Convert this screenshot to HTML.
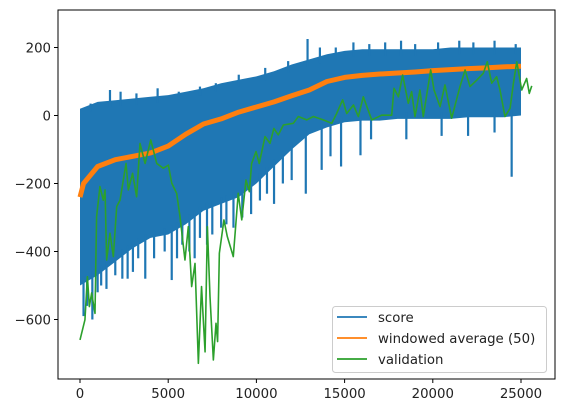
<!DOCTYPE html>
<html><head><meta charset="utf-8"><style>
body{margin:0;background:#fff;}
svg text{font-family:"DejaVu Sans","Liberation Sans",sans-serif;font-size:13.3px;fill:#222;}
</style></head><body>
<svg id="chart" width="563" height="413" viewBox="0 0 563 413" xmlns="http://www.w3.org/2000/svg">
<g id="plot"></g>
<g id="axes"></g>
<g id="legend"></g>
</svg>
<script>
const xTicks=[0,5000,10000,15000,20000,25000];
const yTicks=[200,0,-200,-400,-600];
const bandX=[0,1000,2000,3000,4000,5000,6000,7000,8000,9000,10000,11000,12000,13000,14000,15000,16000,17000,18000,19000,20000,21000,22000,23000,24000,25000];
const scoreUpper=[20,40,45,50,55,60,70,80,95,105,115,130,150,165,180,190,195,195,195,195,195,200,200,200,200,200];
const scoreLower=[-500,-470,-430,-390,-360,-350,-320,-280,-260,-240,-200,-150,-100,-55,-35,-20,-15,-15,-10,-10,-10,-10,-5,-5,-5,0];
const spikeX=[200,700,1500,2700,3700,5200,6500,7500,8700,10600,11500,12800,13700,15900,24470,1700,4400,12900,13600,17300,
400,1000,1200,2000,2400,3000,3300,4200,4800,5500,5800,6200,6800,7200,8000,8300,9200,9700,10200,11000,12000,14200,14800,16500,18500,20500,22000,23500,
600,2300,3200,5600,6800,7700,9000,10500,11800,14500,15500,16400,18200,19000,20300,21500,22300,23500,24700];
const spikeV=[-590,-600,-510,-480,-480,-484,-420,-350,-330,-230,-200,-230,-160,-117,-180,75,80,225,200,215,
-560,-520,-500,-470,-480,-460,-420,-420,-400,-420,-380,-400,-360,-380,-330,-320,-300,-290,-250,-260,-190,-120,-150,-70,-70,-60,-60,-50,
35,70,65,70,85,95,120,140,160,200,215,210,220,210,215,220,215,220,210];
const avgX=[0,200,1000,2000,3000,4000,5000,6000,7000,8000,9000,10000,11000,12000,13000,14000,15000,16000,17000,18000,19000,20000,21000,22000,23000,24000,25000];
const avgV=[-240,-200,-150,-130,-120,-110,-90,-55,-25,-10,10,25,40,58,75,100,112,118,122,125,128,132,135,138,140,143,145];
const valX=[0,280,420,530,660,850,940,1130,1320,1420,1510,1700,1890,2080,2270,2610,2740,2980,3210,3400,3690,4010,4350,4720,5010,5200,5480,5670,5950,6140,6330,6520,6710,6890,6990,7090,7220,7370,7560,7710,7800,7900,8160,8350,8690,8970,9170,9410,9600,9730,9980,10160,10490,10770,10990,11240,11530,12090,12380,12850,13230,13790,14270,14550,14890,15120,15500,15780,16060,16540,17100,17670,17800,18050,18290,18610,18800,18990,19270,19460,19880,20070,20410,20690,21070,21540,21830,22110,22490,22860,23090,23340,23620,23810,24090,24380,24570,24760,25040,25320,25470,25610];
const valV=[-660,-601,-474,-562,-522,-582,-298,-209,-249,-219,-425,-346,-415,-268,-249,-141,-219,-170,-239,-82,-141,-72,-141,-155,-146,-199,-229,-298,-425,-327,-503,-435,-729,-503,-601,-695,-327,-533,-719,-611,-665,-405,-307,-356,-415,-229,-307,-190,-224,-141,-106,-141,-62,-82,-38,-57,-28,-23,-3,-13,-3,-13,-23,6,46,6,31,-3,55,-13,1,1,80,55,119,36,70,-3,75,-3,134,75,26,90,-8,85,134,85,104,124,158,95,114,75,-3,21,95,158,75,109,65,87];

const X0=58,X1=555,Y0=10,Y1=379;
function sx(v){return 80+v*0.01764;}
function sy(v){return 115.5-v*0.34;}
function interp(arr,x){const f=Math.max(0,Math.min(bandX.length-1.001,x/1000));const i=Math.floor(f),t=f-i;return arr[i]*(1-t)+arr[i+1]*t;}
const NS='http://www.w3.org/2000/svg';
function mk(tag,attrs,parent){const e=document.createElementNS(NS,tag);for(const k in attrs)e.setAttribute(k,attrs[k]);parent.appendChild(e);return e;}
const plot=document.getElementById('plot'),axes=document.getElementById('axes'),leg=document.getElementById('legend');

let pts=bandX.map((x,i)=>sx(x)+','+sy(scoreUpper[i]));
for(let i=bandX.length-1;i>=0;i--)pts.push(sx(bandX[i])+','+sy(scoreLower[i]));
const band=mk('polygon',{points:pts.join(' '),fill:'#1f77b4'},plot);


spikeX.forEach((x,i)=>{
  const base=spikeV[i]<0?interp(scoreLower,x)+20:interp(scoreUpper,x)-20;
  const l=mk('line',{x1:sx(x),x2:sx(x),y1:sy(base),y2:sy(spikeV[i]),stroke:'#1f77b4','stroke-width':2.2},plot);
  
  
});
const avg=mk('polyline',{points:avgX.map((x,i)=>sx(x)+','+sy(avgV[i])).join(' '),fill:'none',stroke:'#ff7f0e','stroke-width':5,'stroke-linejoin':'round'},plot);


const val=mk('polyline',{points:valX.map((x,i)=>sx(x)+','+sy(valV[i])).join(' '),fill:'none',stroke:'#2ca02c','stroke-width':1.6,'stroke-linejoin':'round'},plot);



const fr=mk('rect',{x:X0,y:Y0,width:X1-X0,height:Y1-Y0,fill:'none',stroke:'#000','stroke-width':1},axes);


xTicks.forEach(t=>{
  const x=sx(t);
  const tk=mk('line',{x1:x,x2:x,y1:Y1,y2:Y1+4,stroke:'#000'},axes);
  
  
  const tx=mk('text',{x:x,y:Y1+19,'text-anchor':'middle'},axes);tx.textContent=t;
  
  
});
yTicks.forEach(t=>{
  const y=sy(t);
  const tk=mk('line',{x1:X0-4,x2:X0,y1:y,y2:y,stroke:'#000'},axes);
  
  
  const tx=mk('text',{x:X0-7,y:y+5,'text-anchor':'end'},axes);tx.textContent=(t<0?'\u2212'+(-t):t);
  
  
});

const lb=mk('rect',{x:332.5,y:306.5,width:214,height:66,rx:3,fill:'#fff','fill-opacity':0.8,stroke:'#ccc'},leg);


const legNames=['score','windowed average (50)','validation'];
const legColors=['#1f77b4','#ff7f0e','#2ca02c'];
legNames.forEach((n,i)=>{
  const y=317+i*21;
  const g=mk('g',{},leg);
  
  
  mk('line',{x1:337,x2:367,y1:y,y2:y,stroke:legColors[i],'stroke-width':1.8},g);
  const t=mk('text',{x:378,y:y+5},g);t.textContent=n;
});
</script>
</body></html>
